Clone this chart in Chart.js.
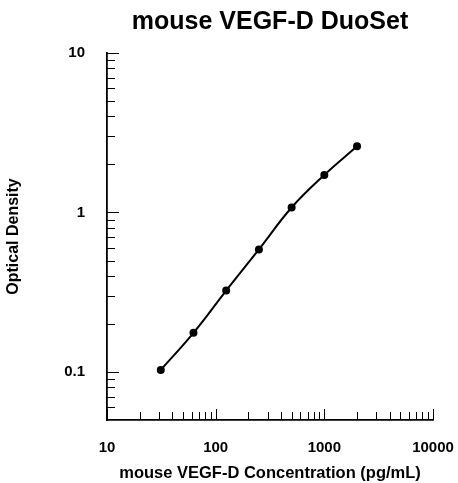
<!DOCTYPE html>
<html>
<head>
<meta charset="utf-8">
<script src="https://cdn.jsdelivr.net/npm/chart.js@4"></script>
<style>
  html, body { margin: 0; padding: 0; background: #fff; }
  #wrap { width: 458px; height: 483px; }
</style>
</head>
<body>
<div id="wrap"><canvas id="curveChart" width="458" height="483"></canvas></div>
<script>
// standard curve: concentration (pg/mL) vs optical density
const concentrations = [31.25, 62.5, 125, 250, 500, 1000, 2000];
const odValues = [0.103, 0.176, 0.324, 0.587, 1.075, 1.72, 2.6];

// axis ticks
const xMajorTicks = [10, 100, 1000, 10000];
const xMinorTicks = [20, 30, 40, 50, 60, 70, 80, 90, 200, 300, 400, 500, 600, 700, 800, 900,
                     2000, 3000, 4000, 5000, 6000, 7000, 8000, 9000];
const yMajorTicks = [0.1, 1, 10];
const yMinorTicks = [0.06, 0.07, 0.08, 0.09, 0.2, 0.3, 0.4, 0.5, 0.6, 0.7, 0.8, 0.9,
                     2, 3, 4, 5, 6, 7, 8, 9];

const FONT = "'Liberation Sans', Arial, Helvetica, sans-serif";

// draws the inward tick marks like the original plot
const innerTicks = {
    id: 'innerTicks',
    afterDatasetsDraw(chart) {
        const ctx = chart.ctx;
        const area = chart.chartArea;
        const xs = chart.scales.x;
        const ys = chart.scales.y;
        ctx.save();
        ctx.strokeStyle = '#000';
        ctx.lineWidth = 1;
        ctx.beginPath();
        yMajorTicks.concat(yMinorTicks).forEach(v => {
            const len = yMajorTicks.includes(v) ? 12 : 8;
            const py = Math.round(ys.getPixelForValue(v)) + 0.5;
            ctx.moveTo(area.left, py);
            ctx.lineTo(area.left + len, py);
        });
        xMajorTicks.concat(xMinorTicks).forEach(v => {
            const len = xMajorTicks.includes(v) ? 11 : 8;
            const px = Math.round(xs.getPixelForValue(v)) + 0.5;
            ctx.moveTo(px, area.bottom);
            ctx.lineTo(px, area.bottom - len);
        });
        ctx.stroke();
        ctx.restore();
    }
};

new Chart(document.getElementById('curveChart').getContext('2d'), {
    type: 'line',
    data: {
        datasets: [{
            data: concentrations.map((c, i) => ({ x: c, y: odValues[i] })),
            borderColor: '#000',
            backgroundColor: '#000',
            borderWidth: 2,
            tension: 0.4,
            pointRadius: 4,
            pointBackgroundColor: '#000',
            pointBorderWidth: 0,
            fill: false
        }]
    },
    options: {
        responsive: false,
        animation: false,
        layout: { padding: { left: 0, right: 25, top: 0, bottom: 0 } },
        plugins: {
            legend: { display: false },
            tooltip: { enabled: false },
            title: {
                display: true,
                fullSize: false,
                text: 'mouse VEGF-D DuoSet',
                color: '#000',
                font: { family: FONT, size: 25, weight: 'bold' },
                padding: { top: 7, bottom: 16 }
            }
        },
        scales: {
            x: {
                type: 'logarithmic',
                min: 10,
                max: 10000,
                afterBuildTicks: s => { s.ticks = xMajorTicks.map(v => ({ value: v })); },
                afterFit: s => {
                    s.height = 63;
                    s.paddingLeft = 0;
                    s.paddingRight = 0;
                },
                grid: { display: false, drawTicks: false },
                border: { display: true, color: '#000', width: 1.8 },
                ticks: {
                    color: '#000',
                    padding: 19,
                    maxRotation: 0,
                    font: { family: FONT, size: 15, weight: 'bold' },
                    callback: v => String(v)
                },
                title: {
                    display: true,
                    text: 'mouse VEGF-D Concentration (pg/mL)',
                    color: '#000',
                    padding: 0,
                    font: { family: FONT, size: 16.5, weight: 'bold' }
                }
            },
            y: {
                type: 'logarithmic',
                min: 0.05,
                max: 10,
                afterBuildTicks: s => { s.ticks = yMajorTicks.map(v => ({ value: v })); },
                afterFit: s => { s.width = 107; },
                grid: { display: false, drawTicks: false },
                border: { display: true, color: '#000', width: 1.8 },
                ticks: {
                    color: '#000',
                    padding: 22,
                    font: { family: FONT, size: 15, weight: 'bold' },
                    callback: v => String(v)
                },
                title: {
                    display: true,
                    text: 'Optical Density',
                    color: '#000',
                    padding: { top: 4, bottom: 0 },
                    font: { family: FONT, size: 16, weight: 'bold' }
                }
            }
        }
    },
    plugins: [innerTicks]
});
</script>
</body>
</html>
